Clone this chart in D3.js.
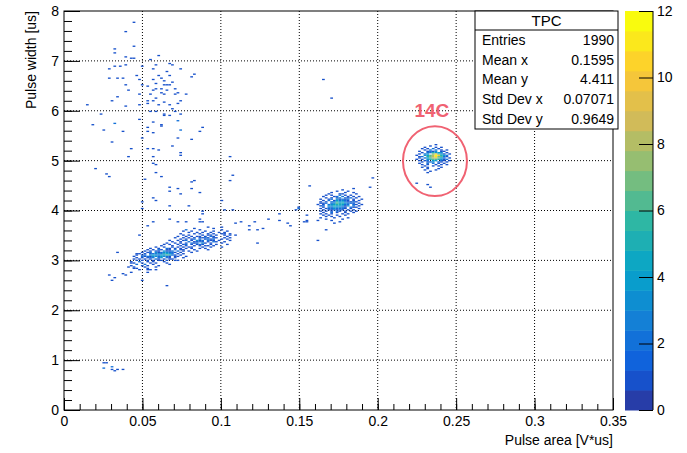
<!DOCTYPE html>
<html>
<head>
<meta charset="utf-8">
<script src="https://cdn.jsdelivr.net/npm/d3@7"></script>
<style>
body { margin: 0; background: #fff; }
svg text { font-family: "Liberation Sans", Arial, Helvetica, sans-serif; }
</style>
</head>
<body>
<div id="chart"></div>
<script>
// histogram binning (TH2: 200 x 300 bins)
const xRange = [0, 0.35], yRange = [0, 8], zMax = 12;
const binW = 0.35 / 200, binH = 8 / 300;

const xMajor = [0, 0.05, 0.1, 0.15, 0.2, 0.25, 0.3, 0.35];
const xLabels = ["0", "0.05", "0.1", "0.15", "0.2", "0.25", "0.3", "0.35"];
const yMajor = [0, 1, 2, 3, 4, 5, 6, 7, 8];
const zMajor = [0, 2, 4, 6, 8, 10, 12];

const statTitle = "TPC";
const statNames = ["Entries", "Mean x", "Mean y", "Std Dev x", "Std Dev y"];
const statValues = ["1990", "0.1595", "4.411", "0.07071", "0.9649"];

const birdStops = [0, 0.125, 0.25, 0.375, 0.5, 0.625, 0.75, 0.875, 1];
const birdR = [0.2082, 0.0592, 0.0780, 0.0232, 0.1802, 0.5301, 0.8186, 0.9956, 0.9764];
const birdG = [0.1664, 0.3599, 0.5041, 0.6419, 0.7178, 0.7492, 0.7328, 0.7862, 0.9832];
const birdB = [0.5293, 0.8684, 0.8385, 0.7914, 0.6425, 0.4662, 0.3499, 0.1968, 0.0539];

// dense spots, bin counts read row by row (top row first); origin = [first x bin, lowest y bin]
const c14Origin = [128, 178];
const c14Rows = [
  "0000000100000",
  "0000010000000",
  "0001000101000",
  "0010102010000",
  "0001020201010",
  "0100121301100",
  "0010225343010",
  "0102307953101",
  "1003468ca5420",
  "0120578b76210",
  "0102468974201",
  "1010356653120",
  "0101204402101",
  "0010123021010",
  "0100202010100",
  "0010100101010",
  "0001001010000",
  "0010100001000",
  "0000100010000",
  "0001000100000",
  "0000010000000",
  "0000100000000"
];

const midOrigin = [92, 140];
const midRows = [
  "00000000000001000",
  "00000000010000000",
  "00000001000100000",
  "00000100001001000",
  "00001000110000100",
  "00010100201010000",
  "00100012020101010",
  "00010101302120100",
  "01001203121201001",
  "00102014232101010",
  "01010225342112100",
  "00120236453221010",
  "10102345542202101",
  "01203354431302010",
  "00102243321021100",
  "01012232221010010",
  "00101121210101000",
  "01010102101010100",
  "00100201001001000",
  "01010100010100000",
  "00101001001000000",
  "00010100100000000",
  "01000010000100000",
  "00010000010000000",
  "00000100000000000",
  "00000000100000000",
  "00000010000000000"
];

const bandOrigin = [24, 105];
const bandRows = [
  "0000000000 0000000000 0000000010 0001000",
  "0000000000 0000000000 0001000000 1000000",
  "0000000000 0000000000 1000010000 0001000",
  "0000000000 0000000001 0010000100 1000010",
  "0000000000 0000000000 0100101001 0010100",
  "0000000000 0000000010 0001010010 1001001",
  "0000000000 0000000001 0100001011 0100100",
  "0000000000 0000000100 1010110102 1000010",
  "0000000000 0000001001 0101011210 1100100",
  "0000000000 0000000010 1012020121 2001010",
  "0000000000 0000100101 2010312021 1010001",
  "0000000000 0000010010 0201121010 2100100",
  "0000000000 0001001010 1021203101 0001000",
  "0000000000 0010100101 2010121001 0100010",
  "0000000000 0100010010 1001010110 1000000",
  "0000000001 0010010101 0110001001 0001000",
  "0000000100 1002101010 1010010100 0000000",
  "0000001010 2101102011 0001000010 0000000",
  "0000010101 1031120201 0100100000 0000000",
  "0000101203 1233221010 0010000000 0000000",
  "0001010122 3254320101 0000000000 0000000",
  "0010120343 2436521010 0000000000 0000000",
  "0100212133 2432101100 1000000000 0000000",
  "0010101220 2302101001 0000000000 0000000",
  "0101010102 1010110000 0000000000 0000000",
  "0010101010 1101001000 0000000000 0000000",
  "1001001010 0010000000 0000000000 0000000",
  "0100100101 0001000000 0000000000 0000000",
  "0010010010 0000000000 0000000000 0000000",
  "1000101000 1000000000 0000000000 0000000",
  "0100010000 0000000000 0000000000 0000000",
  "0010001000 0000000000 0000000000 0000000",
  "0001000100 0000000000 0000000000 0000000"
];

// single scattered hits [pulse area, pulse width]
const upperHits = [
  [0.0443,7.77],[0.0390,7.59],[0.0326,7.23],[0.0326,7.15],[0.0454,7.30],[0.0390,7.09],[0.0432,7.05],
  [0.0454,7.05],[0.0550,7.03],[0.0283,6.85],[0.0326,6.88],[0.0358,6.88],[0.0390,6.93],[0.0497,6.88],
  [0.0582,6.92],[0.0698,6.92],[0.0741,6.84],[0.0656,6.78],[0.0294,6.65],[0.0337,6.65],[0.0379,6.66],
  [0.0464,6.70],[0.0486,6.62],[0.0560,6.62],[0.0582,6.55],[0.0624,6.65],[0.0656,6.52],[0.0698,6.58],
  [0.0816,6.68],[0.0837,6.73],[0.0400,6.52],[0.0507,6.52],[0.0539,6.48],[0.0592,6.45],[0.0635,6.52],
  [0.0667,6.53],[0.0613,6.35],[0.0645,6.32],[0.0550,6.32],[0.0528,6.21],[0.0571,6.42],[0.0709,6.32],
  [0.0730,6.35],[0.0773,6.32],[0.0411,6.40],[0.0475,6.32],[0.0305,6.21],[0.0347,6.29],[0.0528,6.15],
  [0.0603,6.12],[0.0667,6.12],[0.0720,6.15],[0.0752,6.19],[0.0475,6.12],[0.0390,6.09],[0.0155,6.12],
  [0.0241,5.94],[0.0315,5.75],[0.0177,5.71],[0.0251,5.61],[0.0379,5.58],[0.0486,5.84],[0.0539,5.58],
  [0.0571,5.78],[0.0613,5.71],[0.0635,5.94],[0.0645,5.91],[0.0677,5.91],[0.0709,5.98],[0.0741,5.94],
  [0.0720,5.79],[0.0752,5.61],[0.0550,5.98],[0.0592,5.98],[0.0605,6.70],[0.0620,6.45],[0.0660,6.40],
  [0.0700,6.45],[0.0585,6.25],[0.0640,6.18],[0.0690,6.05],[0.0560,6.85],[0.0665,6.95],[0.0600,7.10],
  [0.0630,6.60],[0.0570,6.20],[0.0680,6.70]
];
const middleHits = [
  [0.0315,5.76],[0.0539,5.68],[0.0560,5.56],[0.0613,5.69],[0.0720,5.81],[0.0741,5.61],[0.0720,5.46],
  [0.0858,5.58],[0.0880,5.68],[0.0305,5.36],[0.0422,5.25],[0.0411,5.09],[0.0492,5.46],[0.0528,5.25],
  [0.0571,5.25],[0.0603,5.21],[0.0684,5.28],[0.0741,5.16],[0.0741,5.11],[0.0816,5.43],[0.0560,5.08],
  [0.0571,4.95],[0.0582,4.92],[0.0209,4.83],[0.0279,4.74],[0.0294,4.67],[0.0592,4.75],[0.0624,4.67],
  [0.0518,4.62],[0.0677,4.47],[0.0677,4.39],[0.0730,4.44],[0.0748,4.34],[0.0805,4.44],[0.0816,4.57],
  [0.0837,4.59],[0.0869,4.37],[0.0571,4.24],[0.0592,4.21],[0.0497,4.18],[0.0497,4.04],[0.0677,4.08],
  [0.0794,4.09],[0.0858,3.84],[0.0880,3.78],[0.1072,4.71],[0.1061,4.61],[0.0880,3.98],[0.1014,4.21],
  [0.1082,4.01],[0.0784,3.78],[0.0773,3.61],[0.0858,3.78],[0.1125,3.78],[0.1100,3.74],[0.1210,3.78],
  [0.1178,3.68],[0.1236,3.61],[0.1189,3.61],[0.1274,3.64],[0.1306,3.84],[0.1380,3.81],[0.1380,3.94],
  [0.1433,3.74],[0.1444,3.68],[0.1476,4.01],[0.1497,4.04],[0.1497,4.07],[0.1540,3.91],[0.1540,3.81],
  [0.1551,3.78],[0.1572,4.48],[0.1061,3.51],[0.1018,3.54],[0.1093,3.51],[0.1227,3.35],[0.1061,3.45],
  [0.1636,4.14],[0.1615,3.81],[0.1679,3.61],[0.1625,3.41],[0.1061,5.08],[0.1968,4.66],[0.1955,4.46],
  [0.1488,4.05],[0.1527,3.77],[0.0890,3.94],[0.1018,4.01],[0.0720,3.78],[0.0667,3.84],[0.0571,3.78],
  [0.0539,3.68],[0.0486,3.51],[0.0337,3.17],[0.0464,3.14],[0.1655,6.63],[0.1699,6.24],
  [0.2321,4.51],[0.2333,4.47],[0.2257,4.55]
];
const lowerHits = [
  [0.0283,2.71],[0.0315,2.64],[0.0305,2.61],[0.0379,2.74],[0.0400,2.71],[0.0422,2.77],[0.0443,2.84],
  [0.0411,2.87],[0.0464,2.91],[0.0475,2.97],[0.0432,2.94],[0.0518,2.91],[0.0528,2.81],[0.0539,2.77],
  [0.0592,2.81],[0.0582,2.87],[0.0656,2.49],[0.0677,2.91],[0.0720,3.01],[0.0497,2.61],
  [0.0256,0.94],[0.0277,0.94],[0.0251,0.83],[0.0262,0.83],[0.0298,0.875],[0.0311,0.875],
  [0.0305,0.81],[0.0320,0.78],[0.0347,0.80],[0.0373,0.80]
];

// annotation
const markCenter = [0.2365, 4.99], markRadius = [0.0204, 0.70];
const markText = "14C", markTextPos = [0.2345, 5.87];
const xTitle = "Pulse area [V*us]", yTitle = "Pulse width [us]";

const W = 687, H = 453;
const frame = { left: 64, right: 613, top: 11, bottom: 410 };
const bar = { left: 625, right: 653 };

const svg = d3.select("#chart").append("svg")
    .attr("width", W).attr("height", H)
    .style("display", "block");

const xScale = d3.scaleLinear().domain(xRange).range([frame.left, frame.right]);
const yScale = d3.scaleLinear().domain(yRange).range([frame.bottom, frame.top]);
const zScale = d3.scaleLinear().domain([0, zMax]).range([frame.bottom, frame.top]);

const palette = d3.scaleLinear().domain(birdStops)
    .range(birdStops.map((s, i) => d3.rgb(birdR[i] * 255, birdG[i] * 255, birdB[i] * 255)))
    .interpolate(d3.interpolateRgb);

// 20 contour levels, same lookup as ROOT's COLZ
function levelColor(level) {
    let idx = Math.floor((level + 0.99) * 255 / 20);
    return palette(Math.min(idx, 254) / 254);
}
function countColor(n) {
    return levelColor(Math.min(19, Math.floor(n * 20 / zMax)));
}

// collect all bins
let bins = new Map();
function addBin(ix, iy, n) {
    if (n <= 0) return;
    let key = ix + "," + iy;
    bins.set(key, (bins.get(key) || 0) + n);
}
function addGrid(origin, rows) {
    rows.forEach((row, k) => {
        let r = row.replace(/ /g, "");
        let iy = origin[1] + rows.length - 1 - k;
        for (let c = 0; c < r.length; ++c) {
            addBin(origin[0] + c, iy, parseInt(r[c], 16));
        }
    });
}
addGrid(c14Origin, c14Rows);
addGrid(midOrigin, midRows);
addGrid(bandOrigin, bandRows);
for (let p of upperHits.concat(middleHits, lowerHits)) {
    addBin(Math.floor(p[0] / binW), Math.floor(p[1] / binH), 1);
}
let cells = Array.from(bins, ([key, n]) => {
    let s = key.split(",");
    return { ix: +s[0], iy: +s[1], n: n };
});

// grid
let grid = svg.append("g");
grid.selectAll("line.gx")
    .data(xMajor.slice(1, -1))
    .enter().append("line")
    .attr("x1", d => xScale(d)).attr("x2", d => xScale(d))
    .attr("y1", frame.top).attr("y2", frame.bottom);
grid.selectAll("line.gy")
    .data(yMajor.slice(1, -1))
    .enter().append("line")
    .attr("y1", d => yScale(d)).attr("y2", d => yScale(d))
    .attr("x1", frame.left).attr("x2", frame.right);
grid.selectAll("line")
    .attr("stroke", "#000").attr("stroke-width", 1)
    .attr("stroke-dasharray", "1,2");

// cells
svg.append("g").selectAll("rect")
    .data(cells)
    .enter().append("rect")
    .attr("x", d => xScale(d.ix * binW))
    .attr("y", d => yScale((d.iy + 1) * binH))
    .attr("width", xScale(binW) - xScale(0))
    .attr("height", yScale(0) - yScale(binH))
    .attr("fill", d => countColor(d.n));

// frame
svg.append("rect")
    .attr("x", frame.left).attr("y", frame.top)
    .attr("width", frame.right - frame.left).attr("height", frame.bottom - frame.top)
    .attr("fill", "none").attr("stroke", "#000").attr("stroke-width", 1);

// axes
let xMinor = d3.range(0, 36).map(i => i / 100);
let yMinor = d3.range(0, 41).map(i => i / 5);
svg.append("g")
    .attr("transform", "translate(0," + frame.bottom + ")")
    .call(d3.axisBottom(xScale).tickValues(xMinor).tickSize(-6).tickFormat(""))
    .call(g => g.select(".domain").remove());
svg.append("g")
    .attr("transform", "translate(0," + frame.bottom + ")")
    .call(d3.axisBottom(xScale).tickValues(xMajor).tickSize(-12).tickPadding(6)
        .tickFormat((d, i) => xLabels[i]))
    .call(g => g.select(".domain").remove())
    .selectAll("text").attr("font-size", 14).attr("fill", "#000")
    .attr("font-family", "Liberation Sans, Arial, sans-serif");
svg.append("g")
    .attr("transform", "translate(" + frame.left + ",0)")
    .call(d3.axisLeft(yScale).tickValues(yMinor).tickSize(-8).tickFormat(""))
    .call(g => g.select(".domain").remove());
svg.append("g")
    .attr("transform", "translate(" + frame.left + ",0)")
    .call(d3.axisLeft(yScale).tickValues(yMajor).tickSize(-16).tickPadding(5))
    .call(g => g.select(".domain").remove())
    .selectAll("text").attr("font-size", 14).attr("fill", "#000")
    .attr("font-family", "Liberation Sans, Arial, sans-serif");

// axis titles
svg.append("text")
    .attr("x", frame.right).attr("y", 445)
    .attr("text-anchor", "end").attr("font-size", 14)
    .text(xTitle);
svg.append("text")
    .attr("transform", "translate(36," + frame.top + ") rotate(-90)")
    .attr("text-anchor", "end").attr("font-size", 14)
    .text(yTitle);

// colour bar
let levels = d3.range(20);
svg.append("g").selectAll("rect")
    .data(levels)
    .enter().append("rect")
    .attr("x", bar.left)
    .attr("y", d => zScale((d + 1) * zMax / 20))
    .attr("width", bar.right - bar.left)
    .attr("height", zScale(0) - zScale(zMax / 20) + 0.5)
    .attr("fill", d => levelColor(d));
svg.append("g")
    .attr("transform", "translate(" + bar.right + ",0)")
    .call(d3.axisRight(zScale).tickValues(zMajor).tickSize(-14).tickPadding(4))
    .call(g => g.select(".domain").attr("d", "M0," + frame.top + "V" + frame.bottom))
    .selectAll("text").attr("font-size", 14).attr("fill", "#000")
    .attr("font-family", "Liberation Sans, Arial, sans-serif");

// annotation
svg.append("ellipse")
    .attr("cx", xScale(markCenter[0])).attr("cy", yScale(markCenter[1]))
    .attr("rx", xScale(markRadius[0]) - xScale(0))
    .attr("ry", yScale(0) - yScale(markRadius[1]))
    .attr("fill", "none").attr("stroke", "#f06272").attr("stroke-width", 2);
svg.append("text")
    .attr("x", xScale(markTextPos[0])).attr("y", yScale(markTextPos[1]))
    .attr("text-anchor", "middle").attr("font-size", 19).attr("font-weight", "bold")
    .attr("fill", "#f06272")
    .text(markText);

// stats box
let box = { left: 475, right: 618, top: frame.top, bottom: 129, head: 30 };
svg.append("rect")
    .attr("x", box.left).attr("y", box.top)
    .attr("width", box.right - box.left).attr("height", box.bottom - box.top)
    .attr("fill", "#fff").attr("stroke", "#000").attr("stroke-width", 1);
svg.append("line")
    .attr("x1", box.left).attr("x2", box.right)
    .attr("y1", box.head).attr("y2", box.head)
    .attr("stroke", "#000");
svg.append("text")
    .attr("x", (box.left + box.right) / 2).attr("y", 26)
    .attr("text-anchor", "middle").attr("font-size", 15)
    .text(statTitle);
let rowY = [45, 64.5, 84, 104, 123.5];
svg.append("g").selectAll("text")
    .data(statNames)
    .enter().append("text")
    .attr("x", box.left + 7).attr("y", (d, i) => rowY[i])
    .attr("font-size", 14)
    .text(d => d);
svg.append("g").selectAll("text")
    .data(statValues)
    .enter().append("text")
    .attr("x", box.right - 4).attr("y", (d, i) => rowY[i])
    .attr("text-anchor", "end").attr("font-size", 14)
    .text(d => d);
</script>
</body>
</html>
